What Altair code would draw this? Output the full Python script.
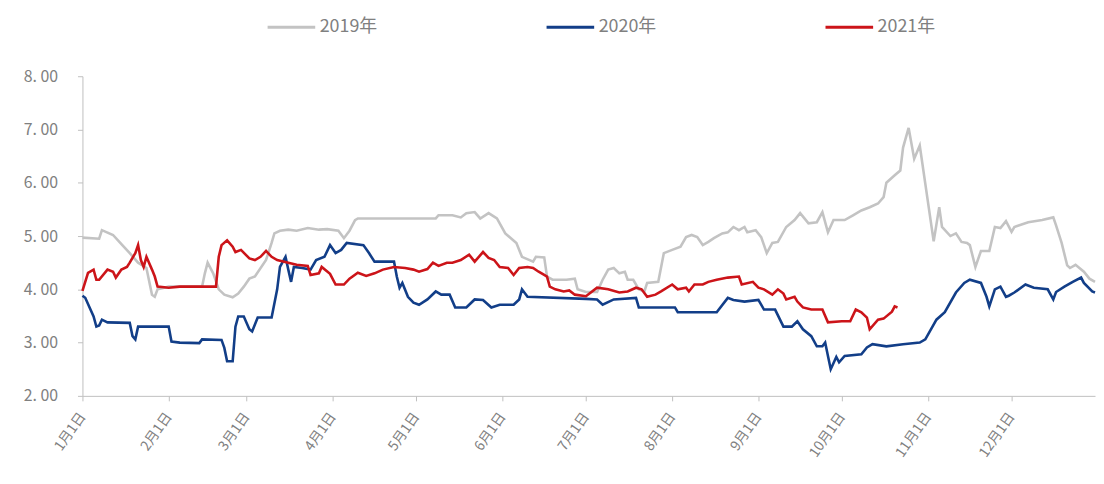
import altair as alt
import pandas as pd

# x values are day offsets from 1 Jan
days_2019 = [0, 6, 7, 11, 14, 17, 20, 23, 25, 26, 27, 31, 38, 43, 44, 45, 47, 49, 51, 54, 56, 58,
             60, 62, 66, 68, 69, 71, 74, 77, 81, 85, 88, 92, 94, 96, 98, 99, 113, 127, 128, 133, 136,
             138, 141, 143, 146, 149, 152, 156, 158, 162, 163, 166, 167, 169, 174, 177, 178, 181, 185,
             187, 189, 191, 193, 195, 196, 198, 200, 202, 203, 207, 209, 212, 215, 217, 219, 221, 223,
             225, 227, 230, 232, 234, 236, 238, 239, 242, 244, 246, 248, 250, 253, 256, 258, 261, 264,
             266, 268, 270, 274, 277, 280, 283, 286, 288, 289, 292, 294, 295, 297, 299, 301, 306, 308,
             309, 312, 314, 316, 318, 319, 321, 323, 326, 328, 330, 332, 334, 335, 340, 345, 349, 350,
             352, 354, 355, 357, 360, 362, 364]
vals_2019 = [4.97, 4.95, 5.11, 5.02, 4.85, 4.68, 4.50, 4.40, 3.90, 3.86, 4.00, 4.05, 4.05, 4.05, 4.30,
             4.50, 4.30, 4.00, 3.90, 3.85, 3.92, 4.05, 4.20, 4.24, 4.55, 4.87, 5.05, 5.10, 5.12, 5.10,
             5.15, 5.12, 5.13, 5.10, 4.96, 5.10, 5.30, 5.33, 5.33, 5.33, 5.39, 5.39, 5.35, 5.43, 5.45,
             5.33, 5.43, 5.33, 5.05, 4.87, 4.61, 4.52, 4.61, 4.60, 4.24, 4.18, 4.18, 4.20, 4.00, 3.95,
             3.95, 4.18, 4.37, 4.40, 4.30, 4.33, 4.18, 4.18, 4.00, 3.96, 4.12, 4.14, 4.68, 4.74, 4.80,
             4.98, 5.02, 4.98, 4.83, 4.89, 4.96, 5.05, 5.07, 5.17, 5.11, 5.17, 5.07, 5.11, 4.98, 4.68,
             4.87, 4.89, 5.17, 5.30, 5.43, 5.24, 5.26, 5.45, 5.07, 5.30, 5.30, 5.39, 5.48, 5.54, 5.61,
             5.73, 6.00, 6.14, 6.23, 6.66, 7.03, 6.45, 6.70, 4.90, 5.54, 5.17, 5.00, 5.05, 4.89, 4.87,
             4.83, 4.42, 4.72, 4.72, 5.17, 5.15, 5.28, 5.08, 5.17, 5.26, 5.30, 5.35, 5.20, 4.87, 4.45,
             4.40, 4.46, 4.33, 4.20, 4.14]

days_2020 = [0, 1, 4, 5, 6, 7, 9, 17, 18, 19, 20, 31, 32, 35, 42, 43, 50, 51, 52, 54, 55, 56, 58, 60,
             61, 63, 68, 70, 71, 73, 74, 75, 76, 79, 82, 84, 87, 89, 91, 93, 95, 101, 103, 105, 112,
             113, 114, 115, 117, 119, 121, 124, 127, 129, 132, 134, 138, 141, 144, 147, 150, 155, 157,
             158, 160, 181, 185, 187, 191, 199, 200, 213, 214, 228, 232, 234, 238, 243, 245, 249, 252,
             255, 257, 259, 262, 264, 266, 267, 268, 269, 271, 272, 274, 280, 282, 284, 289, 295, 301,
             303, 307, 310, 314, 317, 319, 323, 325, 326, 328, 330, 332, 333, 335, 339, 342, 347, 349,
             350, 353, 356, 359, 360, 363, 364]
vals_2020 = [3.88, 3.84, 3.49, 3.30, 3.32, 3.43, 3.38, 3.37, 3.12, 3.06, 3.30, 3.30, 3.02, 3.00, 2.99,
             3.06, 3.05, 2.90, 2.65, 2.65, 3.30, 3.49, 3.49, 3.25, 3.21, 3.47, 3.47, 4.00, 4.42, 4.61,
             4.37, 4.14, 4.42, 4.40, 4.37, 4.55, 4.61, 4.83, 4.68, 4.74, 4.87, 4.83, 4.68, 4.52, 4.52,
             4.24, 4.03, 4.12, 3.86, 3.75, 3.71, 3.81, 3.96, 3.90, 3.90, 3.66, 3.66, 3.81, 3.80, 3.66,
             3.71, 3.71, 3.81, 4.00, 3.86, 3.82, 3.81, 3.71, 3.81, 3.84, 3.66, 3.66, 3.57, 3.57, 3.84,
             3.80, 3.77, 3.80, 3.62, 3.62, 3.30, 3.30, 3.40, 3.25, 3.12, 2.93, 2.93, 3.00, 2.75, 2.50,
             2.73, 2.63, 2.75, 2.78, 2.91, 2.97, 2.93, 2.97, 3.00, 3.06, 3.43, 3.57, 3.94, 4.12, 4.18,
             4.12, 3.86, 3.68, 4.00, 4.05, 3.86, 3.88, 3.94, 4.09, 4.03, 4.00, 3.81, 3.95, 4.05, 4.14,
             4.22, 4.12, 3.96, 3.94]

days_2021 = [0, 2, 4, 5, 6, 9, 11, 12, 14, 16, 17, 19, 20, 21, 22, 23, 25, 26, 27, 31, 35, 48, 49, 50,
             52, 54, 55, 57, 60, 62, 64, 66, 68, 70, 74, 77, 81, 82, 85, 86, 89, 91, 94, 96, 99, 102,
             105, 108, 112, 116, 119, 121, 124, 126, 128, 131, 133, 136, 139, 141, 144, 146, 148, 150,
             153, 155, 157, 160, 162, 164, 166, 167, 168, 170, 173, 175, 177, 181, 185, 189, 193, 196,
             199, 201, 203, 206, 208, 212, 214, 217, 218, 220, 223, 225, 228, 232, 236, 237, 241, 243,
             245, 248, 250, 252, 253, 256, 257, 259, 262, 266, 268, 273, 276, 278, 280, 282, 283, 286,
             288, 291, 292, 293]
vals_2021 = [3.97, 4.31, 4.37, 4.18, 4.18, 4.37, 4.33, 4.22, 4.37, 4.42, 4.50, 4.68, 4.83, 4.55, 4.42,
             4.61, 4.37, 4.24, 4.05, 4.03, 4.05, 4.05, 4.61, 4.83, 4.92, 4.80, 4.70, 4.74, 4.58, 4.55,
             4.61, 4.72, 4.61, 4.55, 4.50, 4.46, 4.44, 4.27, 4.30, 4.42, 4.29, 4.09, 4.09, 4.20, 4.31,
             4.25, 4.30, 4.37, 4.42, 4.40, 4.37, 4.33, 4.38, 4.50, 4.44, 4.50, 4.50, 4.55, 4.65, 4.52,
             4.70, 4.59, 4.55, 4.42, 4.40, 4.27, 4.40, 4.42, 4.40, 4.33, 4.27, 4.24, 4.05, 4.00, 3.96,
             3.98, 3.90, 3.87, 4.03, 4.00, 3.94, 3.96, 4.03, 4.00, 3.86, 3.90, 3.96, 4.09, 4.00, 4.03,
             3.96, 4.09, 4.09, 4.14, 4.18, 4.22, 4.24, 4.09, 4.14, 4.03, 4.00, 3.90, 4.00, 3.92, 3.81,
             3.86, 3.77, 3.66, 3.62, 3.62, 3.38, 3.40, 3.40, 3.62, 3.57, 3.47, 3.25, 3.43, 3.45, 3.58,
             3.68, 3.66]

series_names = ["2019年", "2020年", "2021年"]
series_colors = ["#C3C3C3", "#123E88", "#CC1419"]
y_ticks = [2, 3, 4, 5, 6, 7, 8]

base = pd.Timestamp("2001-01-01")


def frame(name, days, vals):
    return pd.DataFrame({
        "date": [base + pd.Timedelta(days=d) for d in days],
        "value": vals,
        "year": name,
    })


df = pd.concat([
    frame(series_names[0], days_2019, vals_2019),
    frame(series_names[1], days_2020, vals_2020),
    frame(series_names[2], days_2021, vals_2021),
], ignore_index=True)

cjk = "Noto Sans CJK SC"
axis_gray = "#BFBFBF"
label_gray = "#808080"

x_enc = alt.X(
    "date:T",
    scale=alt.Scale(domain=[alt.DateTime(year=2001, month=1, date=1),
                            alt.DateTime(year=2001, month=12, date=31)]),
    axis=alt.Axis(
        values=[alt.DateTime(year=2001, month=m, date=1) for m in range(1, 13)],
        format="%-m月%-d日",
        labelAngle=-55,
        labelFontSize=14,
        labelFont=cjk,
        labelColor=label_gray,
        labelPadding=13,
        labelOverlap=False,
        labelFlush=False,
        tickSize=5,
        tickColor=axis_gray,
        domainColor=axis_gray,
        grid=False,
        title=None,
    ),
)

y_enc = alt.Y(
    "value:Q",
    scale=alt.Scale(domain=[2, 8], nice=False, zero=False),
    axis=alt.Axis(
        values=y_ticks,
        labelExpr="replace(format(datum.value, '.2f'), '.', '. ')",
        labelFontSize=16,
        labelFont=cjk,
        labelColor=label_gray,
        labelPadding=20,
        tickSize=5,
        tickColor=axis_gray,
        domainColor=axis_gray,
        grid=False,
        title=None,
    ),
)

color_enc = alt.Color(
    "year:N",
    scale=alt.Scale(domain=series_names, range=series_colors),
    legend=alt.Legend(
        title=None,
        orient="none",
        legendX=185,
        legendY=-75,
        direction="horizontal",
        symbolType="stroke",
        symbolSize=2300,
        symbolStrokeWidth=3,
        labelFontSize=18,
        labelFont=cjk,
        labelColor=label_gray,
        labelOffset=3,
        columnPadding=164,
    ),
)


def series_line(name):
    return (
        alt.Chart(df)
        .transform_filter(alt.datum.year == name)
        .mark_line(strokeWidth=2.6)
        .encode(x=x_enc, y=y_enc, color=color_enc)
    )


chart = (
    alt.layer(*[series_line(n) for n in series_names])
    .properties(
        width=1020,
        height=322,
        autosize=alt.AutoSizeParams(type="none"),
        padding={"left": 75, "top": 67, "right": 1, "bottom": 80},
    )
    .configure_view(stroke=None)
)

chart.save("out.html", embed_options={"renderer": "svg", "actions": False})
